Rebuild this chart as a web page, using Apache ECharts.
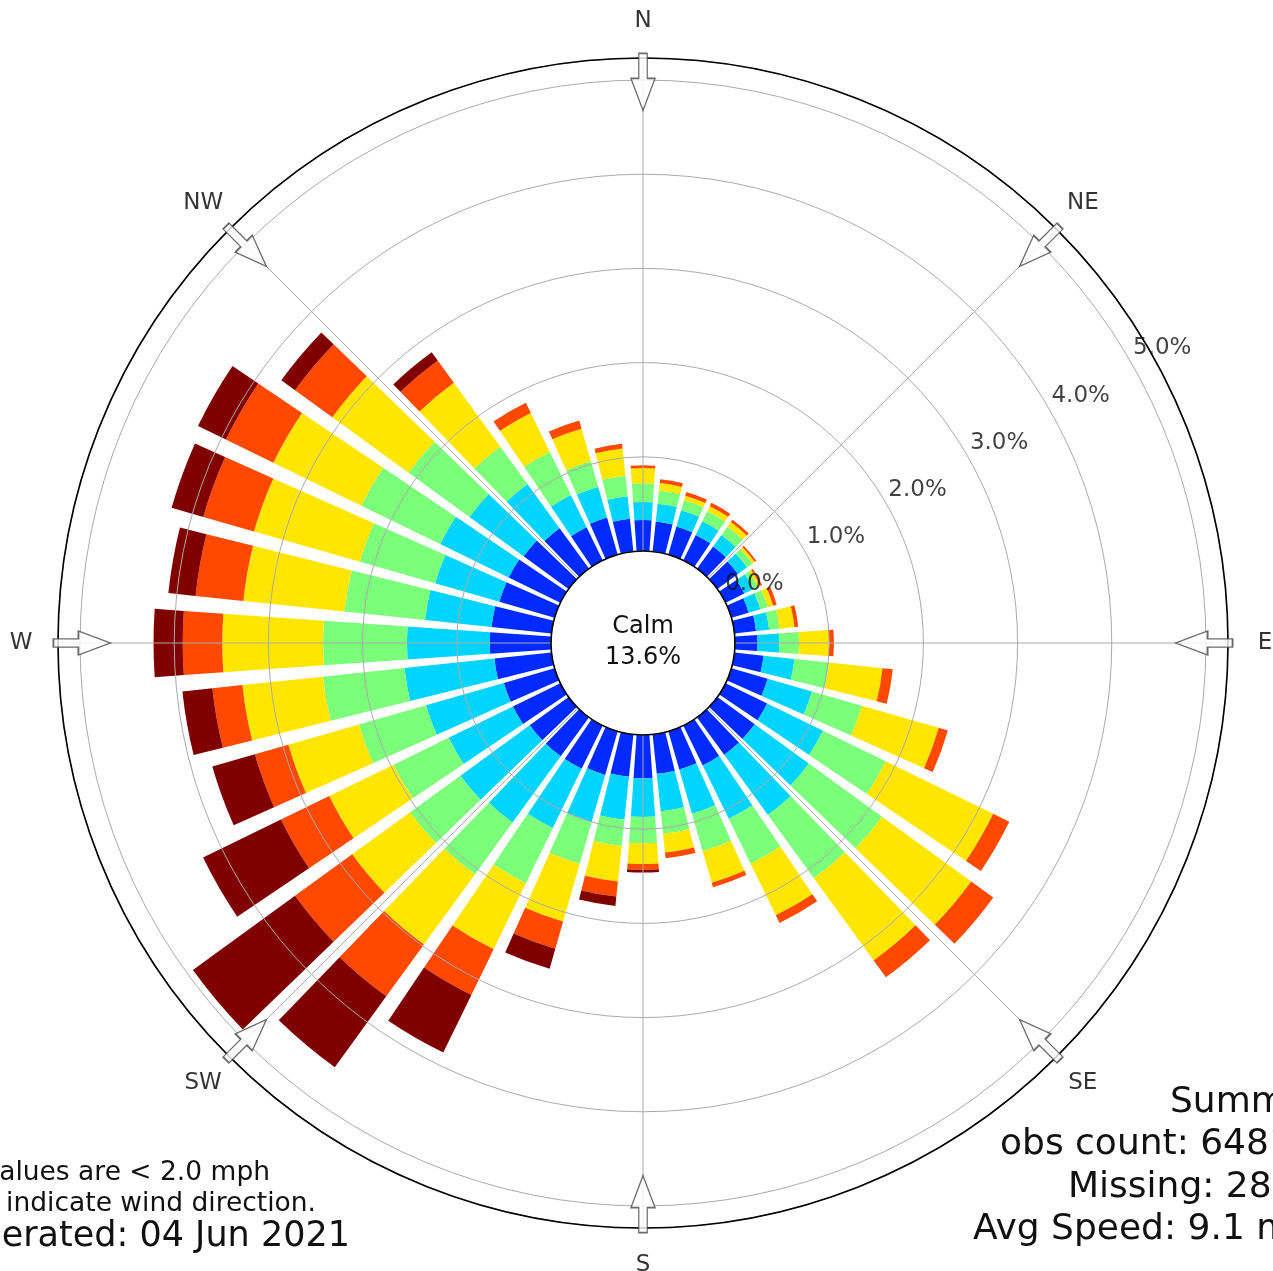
<!DOCTYPE html>
<html><head><meta charset="utf-8">
<script src="https://cdn.jsdelivr.net/npm/echarts@6/dist/echarts.min.js"></script>
<style>html,body{margin:0;padding:0;background:#fff}#c{width:1273px;height:1271px}</style>
</head><body><div id="c"></div>
<script>
// ---- data ----
const directions = ['0','10','20','30','40','50','60','70','80','90','100','110','120','130','140','150','160','170',
  '180','190','200','210','220','230','240','250','260','270','280','290','300','310','320','330','340','350'];
const speedBins = ['2 - 5 mph','5 - 7 mph','7 - 10 mph','10 - 15 mph','15 - 20 mph','20+ mph'];
const binColors = ['#002aff','#00d4ff','#7bff7b','#ffe600','#ff4800','#800000'];
const bin1 = [0.33,0.32,0.31,0.30,0.29,0.27,0.22,0.19,0.23,0.24,0.31,0.40,0.49,0.49,0.49,0.47,0.42,0.42,
              0.46,0.45,0.48,0.51,0.51,0.51,0.56,0.56,0.61,0.65,0.64,0.61,0.61,0.59,0.53,0.39,0.41,0.35];
const bin2 = [0.19,0.19,0.18,0.16,0.15,0.12,0.11,0.13,0.14,0.23,0.33,0.49,0.66,0.71,0.79,0.63,0.49,0.40,
              0.41,0.46,0.52,0.70,0.87,0.91,0.76,0.86,0.96,0.88,0.71,0.71,0.81,0.71,0.58,0.38,0.34,0.24];
const bin3 = [0.20,0.14,0.11,0.12,0.11,0.07,0.05,0.08,0.11,0.21,0.37,0.55,0.74,0.96,0.83,0.53,0.41,0.24,
              0.28,0.28,0.46,0.65,0.68,0.66,0.65,0.74,0.87,0.89,0.86,0.83,0.93,0.80,0.49,0.51,0.28,0.22];
const bin4 = [0.16,0.08,0.05,0.06,0.06,0.03,0.03,0.06,0.16,0.32,0.57,0.85,1.27,1.17,1.08,0.61,0.35,0.20,
              0.22,0.38,0.64,0.78,0.92,0.76,0.76,0.78,0.86,1.07,1.08,1.17,1.04,1.00,0.84,0.46,0.36,0.29];
const bin5 = [0.03,0.04,0.04,0.04,0.03,0.02,0.02,0.04,0.04,0.05,0.11,0.10,0.19,0.29,0.22,0.09,0.05,0.06,
              0.06,0.16,0.30,0.54,0.68,0.75,0.57,0.37,0.32,0.42,0.51,0.56,0.56,0.49,0.29,0.12,0.09,0.05];
const bin6 = [0,0,0,0,0,0,0,0,0,0,0,0,0,0,0,0,0,0,
              0.03,0.10,0.22,0.68,0.93,1.34,0.92,0.47,0.32,0.31,0.29,0.35,0.33,0.18,0.11,0,0,0];
const calmPct = '13.6';
const ringValues = [0,1,2,3,4,5];
const ringLabels = ['0.0%','1.0%','2.0%','3.0%','4.0%','5.0%'];
const compassAngles = [0,45,90,135,180,225,270,315];
const compassNames = ['N','NE','E','SE','S','SW','W','NW'];
const footLeft = ['Calm values are < 2.0 mph','Arrows indicate wind direction.','Generated: 04 Jun 2021'];
const footRight = ['Summary','obs count: 64812','Missing: 2843','Avg Speed: 9.1 mph'];

// ---- chart ----
const FONT = 'DejaVu Sans';
const CX = 643, CY = 643, R0 = 92, R1 = 585;
const RMAX = 5.234;
const binData = [bin1, bin2, bin3, bin4, bin5, bin6];

const chart = echarts.init(document.getElementById('c'), null, {renderer: 'canvas'});

const barSeries = binData.map((d, i) => ({
  name: speedBins[i], type: 'bar', coordinateSystem: 'polar', polarIndex: 0,
  stack: 'wind', data: d, barCategoryGap: '20%', z: 2, silent: true,
  itemStyle: {color: binColors[i]}
}));

function txt(x, y, text, size, align) {
  return {type: 'text', x: x, y: y, z: 20,
    style: {text: text, fill: '#111', fontSize: size, fontFamily: FONT,
      textAlign: align, textVerticalAlign: 'middle', align: align, verticalAlign: 'middle'}};
}

const option = {
  animation: false,
  backgroundColor: '#fff',
  polar: [
    {center: [CX, CY], radius: [R0, R1]},
    {center: [CX, CY], radius: [R0, R1]},
    {center: [CX, CY], radius: [0, 622]}
  ],
  angleAxis: [
    {polarIndex: 0, type: 'category', data: directions, startAngle: 95, clockwise: true, boundaryGap: true,
     axisLine: {show: false}, axisTick: {show: false}, axisLabel: {show: false}, splitLine: {show: false}},
    {polarIndex: 1, type: 'value', min: 0, max: 360, interval: 45, startAngle: 90, clockwise: true, z: 5,
     axisLine: {show: true, lineStyle: {color: '#000', width: 1.6}}, axisTick: {show: false},
     axisLabel: {show: false}, splitLine: {show: true, lineStyle: {color: '#aaaaaa', width: 1}}},
    {polarIndex: 2, type: 'value', min: 0, max: 360, startAngle: 90, clockwise: true, show: false}
  ],
  radiusAxis: [
    {polarIndex: 0, type: 'value', min: 0, max: RMAX, show: false},
    {polarIndex: 1, type: 'value', min: 0, max: RMAX, interval: 1, z: 5,
     axisLine: {show: false}, axisTick: {show: false}, axisLabel: {show: false},
     splitLine: {show: true, lineStyle: {color: '#aaaaaa', width: 1}}},
    {polarIndex: 2, type: 'value', min: 0, max: 1, show: false}
  ],
  series: barSeries.concat([
    {
      type: 'scatter', coordinateSystem: 'polar', polarIndex: 1, z: 10, silent: true,
      symbol: 'path://M12,0L25,0L25,25L37,25L18.5,57L0,25L12,25Z', symbolSize: [37, 57], symbolKeepAspect: true,
      itemStyle: {color: '#fff', borderColor: '#444', borderWidth: 1.5},
      data: compassAngles.map(a => ({value: [4.98, a], symbolRotate: -a}))
    },
    {
      type: 'scatter', coordinateSystem: 'polar', polarIndex: 2, z: 10, silent: true,
      symbolSize: 1, itemStyle: {color: 'rgba(0,0,0,0)'},
      label: {show: true, position: 'inside', formatter: p => compassNames[p.dataIndex],
              fontSize: 23, fontFamily: FONT, color: '#000'},
      data: compassAngles.map(a => [1, a])
    },
    {
      type: 'scatter', coordinateSystem: 'polar', polarIndex: 1, z: 11, silent: true,
      symbolSize: 1, itemStyle: {color: 'rgba(0,0,0,0)'},
      label: {show: true, position: 'right', distance: 0, offset: [2, -13],
              formatter: p => ringLabels[p.dataIndex], fontSize: 23, fontFamily: FONT, color: '#111'},
      data: ringValues.map(v => [v, 60])
    }
  ]),
  graphic: [
    {type: 'text', x: CX, y: CY - 1, z: 20,
     style: {text: 'Calm\n' + calmPct + '%', fill: '#111', fontSize: 24, fontFamily: FONT, lineHeight: 31,
             textAlign: 'center', textVerticalAlign: 'middle', align: 'center', verticalAlign: 'middle'}},
    txt(270, 1173, footLeft[0], 26.5, 'right'),
    txt(316, 1204, footLeft[1], 26.5, 'right'),
    txt(350, 1237, footLeft[2], 35, 'right'),
    txt(1170, 1103, footRight[0], 36, 'left'),
    txt(1000, 1145, footRight[1], 36, 'left'),
    txt(1068, 1188, footRight[2], 36, 'left'),
    txt(973, 1230, footRight[3], 36, 'left')
  ]
};
chart.setOption(option);
</script></body></html>
